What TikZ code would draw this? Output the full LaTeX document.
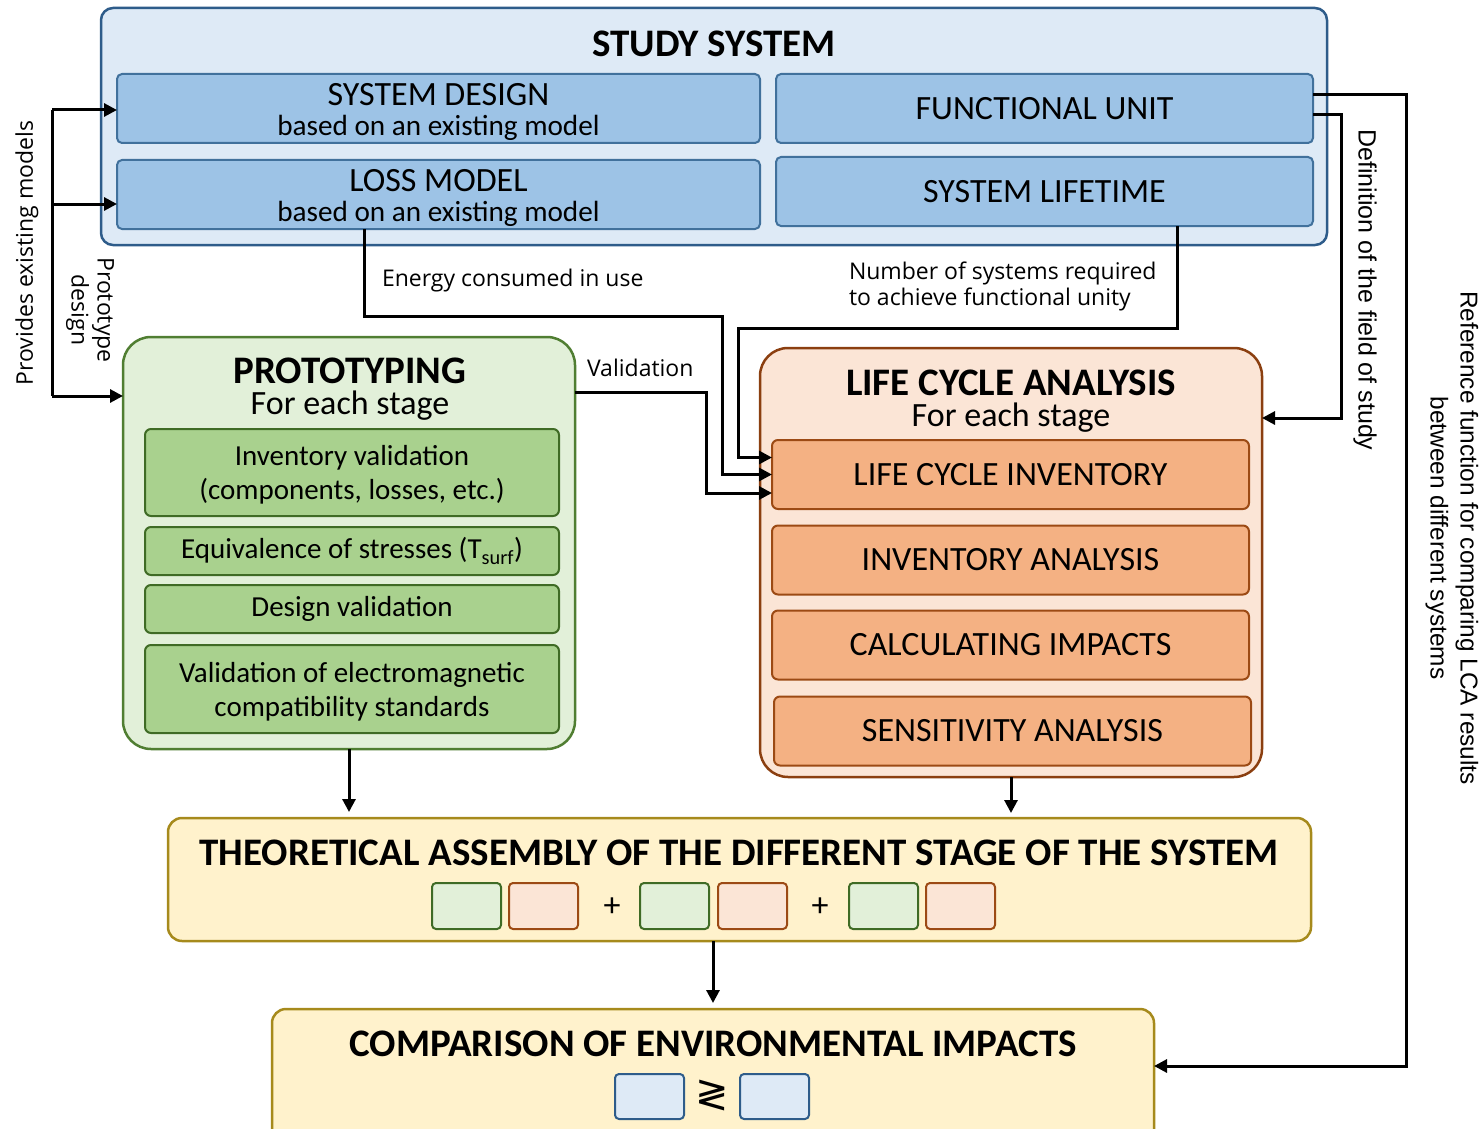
\documentclass[tikz,border=0pt]{standalone}
\usepackage{fontspec}
\setmainfont{Carlito}
\newfontfamily\lblfont{Open Sans}
\newfontfamily\sidefont{Liberation Sans}
\newfontfamily\symfont{DejaVu Sans}
\usetikzlibrary{arrows.meta}

\definecolor{studyfill}{HTML}{DEEAF6}
\definecolor{studyline}{HTML}{2E5C8A}
\definecolor{studyin}{HTML}{9DC3E6}
\definecolor{studyinline}{HTML}{41719C}
\definecolor{protofill}{HTML}{E2F0D9}
\definecolor{protoline}{HTML}{507E32}
\definecolor{protoin}{HTML}{A9D18E}
\definecolor{protoinline}{HTML}{3F6B25}
\definecolor{lcafill}{HTML}{FBE5D6}
\definecolor{lcaline}{HTML}{8B3F10}
\definecolor{lcain}{HTML}{F4B183}
\definecolor{lcainline}{HTML}{9C4A14}
\definecolor{asmfill}{HTML}{FFF2CC}
\definecolor{asmline}{HTML}{A68A1C}

\tikzset{
  every node/.style={inner sep=0pt, outer sep=0pt},
  studyouter/.style={draw=studyline, fill=studyfill, line width=2.5pt, rounded corners=12pt},
  studybox/.style={draw=studyinline, fill=studyin, line width=2pt, rounded corners=5pt, align=center},
  protoouter/.style={draw=protoline, fill=protofill, line width=2.5pt, rounded corners=28pt},
  protobox/.style={draw=protoinline, fill=protoin, line width=2pt, rounded corners=6pt, align=center},
  lcaouter/.style={draw=lcaline, fill=lcafill, line width=2.5pt, rounded corners=28pt},
  lcabox/.style={draw=lcainline, fill=lcain, line width=2pt, rounded corners=6pt, align=center},
  asmbox/.style={draw=asmline, fill=asmfill, line width=2.5pt, rounded corners=14pt},
  greensq/.style={draw=protoinline, fill=protofill, line width=2pt, rounded corners=4pt, minimum width=69pt, minimum height=46pt},
  orangesq/.style={draw=lcainline, fill=lcafill, line width=2pt, rounded corners=4pt, minimum width=69pt, minimum height=46pt},
  bluesq/.style={draw=studyline, fill=studyfill, line width=2pt, rounded corners=4pt, minimum width=69pt, minimum height=45pt},
  bigtitle/.style={font=\fontsize{39}{40}\selectfont\bfseries},
  titlepair/.style={font=\fontsize{34}{31}\selectfont, align=center},
  capstext/.style={font=\fontsize{34}{36}\selectfont},
  basedtext/.style={font=\fontsize{29.2}{31}\selectfont},
  boxtext/.style={font=\fontsize{29}{34}\selectfont},
  wire/.style={line width=3pt},
  conn/.style={line width=3pt, -{Triangle[length=13pt,width=13pt]}},
  lbl/.style={font=\lblfont\fontsize{23}{26}\selectfont},
  sidelbl/.style={font=\sidefont\fontsize{25}{30}\selectfont}
}

\begin{document}
\begin{tikzpicture}[x=1pt,y=-1pt]
\useasboundingbox (0,0) rectangle (1481,1129);

% ---------- study system ----------
\node[studyouter, minimum width=1226pt, minimum height=237pt] (study) at (714,126.5) {};
\node[bigtitle] (studytitle) at (714,44) {STUDY SYSTEM};
\node[studybox, minimum width=643pt, minimum height=69pt] (sysdesign) at (438.5,108.5) {};
\node[capstext] (sysdesignA) at (438.5,95) {SYSTEM DESIGN};
\node[basedtext] (sysdesignB) at (438.5,128) {based on an existing model};
\node[studybox, minimum width=643pt, minimum height=69pt] (lossmodel) at (438.5,194.5) {};
\node[capstext] (lossmodelA) at (438.5,181) {LOSS MODEL};
\node[basedtext] (lossmodelB) at (438.5,214) {based on an existing model};
\node[studybox, capstext, minimum width=537pt, minimum height=69pt] (fu) at (1044.5,108.5) {FUNCTIONAL UNIT};
\node[studybox, capstext, minimum width=537pt, minimum height=69pt] (lifetime) at (1044.5,191.5) {SYSTEM LIFETIME};

% ---------- prototyping ----------
\node[protoouter, minimum width=452pt, minimum height=412pt] (proto) at (349,543) {};
\node[titlepair] (prototitle) at (350,389.5)
  {{\fontsize{39}{31}\selectfont\bfseries PROTOTYPING}\\For each stage};
\node[protobox, boxtext, minimum width=414pt, minimum height=87pt, text depth=0pt] (invval) at (352,472.5)
  {Inventory validation\\(components, losses, etc.)};
\node[protobox, boxtext, minimum width=414pt, minimum height=48pt] (equiv) at (352,551)
  {Equivalence of stresses (T\textsubscript{surf})};
\node[protobox, boxtext, minimum width=414pt, minimum height=48pt] (desval) at (352,609)
  {Design validation};
\node[protobox, boxtext, minimum width=414pt, minimum height=88pt, text depth=0pt] (emc) at (352,689)
  {Validation of electromagnetic\\compatibility standards};

% ---------- life cycle analysis ----------
\node[lcaouter, minimum width=502pt, minimum height=429pt] (lca) at (1011,562.5) {};
\node[titlepair] (lcatitle) at (1011,401.5)
  {{\fontsize{39}{31}\selectfont\bfseries LIFE CYCLE ANALYSIS}\\For each stage};
\node[lcabox, capstext, minimum width=477pt, minimum height=69pt] (lci) at (1010.5,474.5) {LIFE CYCLE INVENTORY};
\node[lcabox, capstext, minimum width=477pt, minimum height=69pt] (ia) at (1010.5,560) {INVENTORY ANALYSIS};
\node[lcabox, capstext, minimum width=477pt, minimum height=69pt] (ci) at (1010.5,645) {CALCULATING IMPACTS};
\node[lcabox, capstext, minimum width=477pt, minimum height=69pt] (sa) at (1012.5,731) {SENSITIVITY ANALYSIS};

% ---------- theoretical assembly ----------
\node[asmbox, minimum width=1143pt, minimum height=123pt] (assembly) at (739.5,879.5) {};
\node[bigtitle] (asmtitle) at (739,853)
  {THEORETICAL ASSEMBLY OF THE DIFFERENT STAGE OF THE SYSTEM};
\node[greensq] (g1) at (466.5,906) {};
\node[orangesq] (o1) at (543.5,906) {};
\node[capstext] (plus1) at (612,907) {+};
\node[greensq] (g2) at (674.5,906) {};
\node[orangesq] (o2) at (752.5,906) {};
\node[capstext] (plus2) at (820,907) {+};
\node[greensq] (g3) at (883.5,906) {};
\node[orangesq] (o3) at (960.5,906) {};

% ---------- comparison ----------
\node[asmbox, minimum width=882pt, minimum height=136pt] (compare) at (713,1077) {};
\node[bigtitle] (cmptitle) at (713,1044) {COMPARISON OF ENVIRONMENTAL IMPACTS};
\node[bluesq] (b1) at (649.5,1096.5) {};
\node[bluesq] (b2) at (774.5,1096.5) {};
\node[font=\symfont\fontsize{40}{42}\selectfont] (cmpsign) at (712,1096) {≷};

% ---------- left feed: existing models and prototype design ----------
\coordinate (ltop) at (52,110);
\coordinate (lbot) at (52,396);
\draw[wire] (ltop) -- (lbot);
\draw[conn] (ltop) -- (sysdesign.west |- ltop);
\draw[conn] (ltop |- 0,204) -- ([yshift=-9.5pt]lossmodel.west);
\draw[conn] (lbot) -- (proto.west |- lbot);
\node[lbl, rotate=90] (provides) at (27,253) {Provides existing models};
\node[lbl, rotate=-90, align=center] (protodesign) at (90,310) {Prototype\\design};

% ---------- flows into the inventory ----------
\draw[conn] ([xshift=247pt]lossmodel.south west) |- (722,316) |- (lci.west);
\node[lbl, anchor=west] (energy) at (382,281) {Energy consumed in use};
\draw[conn] ([xshift=401pt]lifetime.south west) |- (738,328) |- ([yshift=17pt]lci.west);
\node[lbl, anchor=west, align=left] (nsys) at (849,286)
  {Number of systems required\\to achieve functional unity};
\draw[conn] ([yshift=151pt]proto.east) -| (706,493) -- ([yshift=-18.5pt]lci.west);
\node[lbl, anchor=west] (valid) at (587,368) {Validation};

% ---------- flows from the functional unit ----------
\draw[conn] ([yshift=-6.5pt]fu.east) -| (1341,418) -- ([yshift=144.5pt]lca.east);
\node[sidelbl, rotate=-90] (fieldlbl) at (1365,290) {Definition of the field of study};
\draw[conn] ([yshift=13.5pt]fu.east) -| (1406,1066) -- ([yshift=11pt]compare.east);
\node[sidelbl, font=\sidefont\fontsize{24.4}{30}\selectfont, rotate=-90, align=center] (reflbl) at (1452,538)
  {Reference function for comparing LCA results\\between different systems};

% ---------- downward flows ----------
\draw[conn] (proto.south) -- ([yshift=6pt]proto.south |- assembly.north);
\draw[conn] (lca.south) -- ([yshift=5pt]lca.south |- assembly.north);
\draw[conn] (assembly.south -| compare.north) -- ([yshift=6pt]compare.north);
\end{tikzpicture}
\end{document}
